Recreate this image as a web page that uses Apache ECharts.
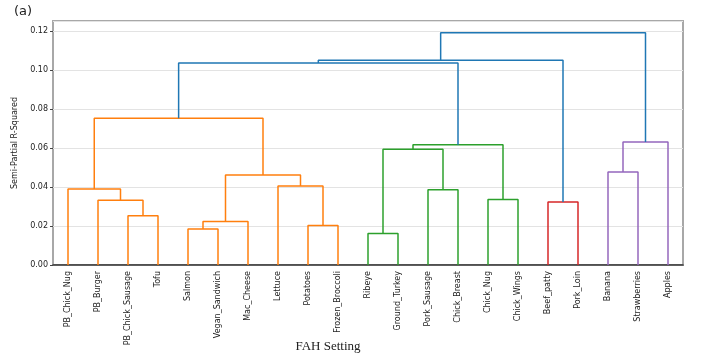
<!DOCTYPE html>
<html>
<head>
<meta charset="utf-8">
<script src="https://cdn.jsdelivr.net/npm/echarts@6/dist/echarts.min.js"></script>
<style>html,body{margin:0;padding:0;background:#fff}#chart{width:708px;height:361px}</style>
</head>
<body>
<div id="chart"></div>
<script>
const leaves = ['PB_Chick_Nug','PB_Burger','PB_Chick_Sausage','Tofu','Salmon','Vegan_Sandwich','Mac_Cheese','Lettuce','Potatoes','Frozen_Broccoli','Ribeye','Ground_Turkey','Pork_Sausage','Chick_Breast','Chick_Nug','Chick_Wings','Beef_patty','Pork_Loin','Banana','Strawberries','Apples'];
// merges: node ids 0..20 are leaves, 21.. are merges in order
const linkLeft   = [2, 1, 0, 4, 24, 8, 7, 25, 23, 10, 12, 30, 14, 32, 16, 18, 36, 29, 38, 39];
const linkRight  = [3, 21, 22, 5, 6, 9, 26, 27, 28, 11, 13, 31, 15, 33, 17, 19, 20, 34, 35, 37];
const linkHeight = [0.0253, 0.0333, 0.0390, 0.0185, 0.0224, 0.0203, 0.0406, 0.0462, 0.0754, 0.0162, 0.0386, 0.0595, 0.0337, 0.0617, 0.0323, 0.0477, 0.0631, 0.1037, 0.1051, 0.1193];
const linkGroup  = ['g1','g1','g1','g1','g1','g1','g1','g1','g1','g2','g2','g2','g2','g2','g3','g4','g4','g0','g0','g0'];
const yTicks = [0, 0.02, 0.04, 0.06, 0.08, 0.10, 0.12];

const groupColors = {g0:'#1f77b4', g1:'#ff7f0e', g2:'#2ca02c', g3:'#d62728', g4:'#9467bd'};
const n = leaves.length;
const nodeX = [], nodeY = [];
for (let i = 0; i < n; i++) { nodeX.push(5 + 10 * i); nodeY.push(0); }
const series = [];
for (let k = 0; k < linkLeft.length; k++) {
  const a = linkLeft[k], b = linkRight[k], h = linkHeight[k];
  series.push({
    type: 'line', xAxisIndex: 1, yAxisIndex: 0, symbol: 'none', silent: true, animation: false,
    lineStyle: {color: groupColors[linkGroup[k]], width: 1.5},
    data: [[nodeX[a], nodeY[a]], [nodeX[a], h], [nodeX[b], h], [nodeX[b], nodeY[b]]]
  });
  nodeX.push((nodeX[a] + nodeX[b]) / 2);
  nodeY.push(h);
}

const chart = echarts.init(document.getElementById('chart'), null, {renderer: 'canvas'});
chart.setOption({
  animation: false,
  grid: {left: 53, right: 25, top: 21, bottom: 96, show: true, borderColor: '#a8a8a8', borderWidth: 2, backgroundColor: 'transparent'},
  xAxis: [
    {type: 'category', data: leaves, boundaryGap: true, position: 'bottom',
     axisLine: {show: true, lineStyle: {color: '#333', width: 1.5}},
     axisTick: {show: false},
     axisLabel: {rotate: 90, fontSize: 8, color: '#222', margin: 6, interval: 0, fontFamily: 'DejaVu Sans'},
     splitLine: {show: false}},
    {type: 'value', min: 0, max: 10 * n, show: false, splitLine: {show: false}}
  ],
  yAxis: {
    type: 'value', min: 0, max: 0.1253, interval: 0.02,
    name: 'Semi-Partial R-Squared', nameLocation: 'middle', nameRotate: 90, nameGap: 32,
    nameTextStyle: {fontSize: 8, color: '#222', fontFamily: 'DejaVu Sans'},
    axisLine: {show: false},
    axisTick: {show: true, length: 3, lineStyle: {color: '#444'}},
    axisLabel: {fontSize: 8, color: '#222', margin: 5, fontFamily: 'DejaVu Sans', showMaxLabel: false,
      formatter: v => yTicks.some(t => Math.abs(t - v) < 1e-9) ? v.toFixed(2) : ''},
    splitLine: {show: true, lineStyle: {color: '#e3e3e3', width: 1}}
  },
  graphic: [
    {type: 'text', left: 14, top: 5, style: {text: '(a)', fontSize: 13, fill: '#222', fontFamily: 'DejaVu Sans'}},
    {type: 'text', x: 328, y: 347, style: {text: 'FAH Setting', fontSize: 13, fill: '#222', fontFamily: 'Liberation Serif', align: 'center', verticalAlign: 'middle'}}
  ],
  series: series
});
</script>
</body>
</html>
